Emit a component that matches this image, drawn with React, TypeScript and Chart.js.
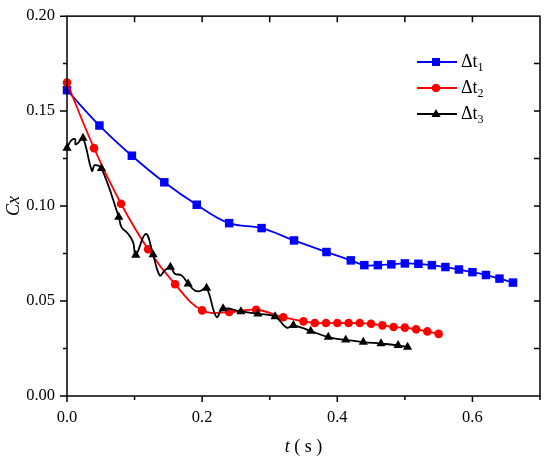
import { useEffect, useRef } from 'react'
import Chart from 'chart.js/auto'

// Δt1 series (blue squares)
const tBlue = [0, 0.048, 0.096, 0.144, 0.192, 0.24, 0.288, 0.336, 0.384, 0.42, 0.44, 0.46, 0.48, 0.5, 0.52, 0.54, 0.56, 0.58, 0.6, 0.62, 0.64, 0.66]
const cxBlue = [0.161, 0.1424, 0.1265, 0.1125, 0.1007, 0.091, 0.0884, 0.0819, 0.0758, 0.0714, 0.0689, 0.0689, 0.0693, 0.0698, 0.0696, 0.0689, 0.0679, 0.0666, 0.0652, 0.0637, 0.0618, 0.0597]

// Δt2 series (red circles)
const tRed = [0, 0.04, 0.08, 0.12, 0.16, 0.2, 0.24, 0.28, 0.32, 0.35, 0.3667, 0.3833, 0.4, 0.4167, 0.4333, 0.45, 0.4667, 0.4833, 0.5, 0.5167, 0.5333, 0.55]
const cxRed = [0.165, 0.1305, 0.1012, 0.0773, 0.0588, 0.0451, 0.0442, 0.0454, 0.0415, 0.0393, 0.0384, 0.0384, 0.0384, 0.0384, 0.0384, 0.038, 0.0372, 0.0363, 0.036, 0.0351, 0.034, 0.0327]

// Δt3 series (black triangles) - the curve wiggles between markers, so the
// unmarked points trace the drawn line
const tBlack = [0, 0.006, 0.012, 0.0125, 0.017, 0.0237, 0.037, 0.041, 0.051, 0.0766, 0.0806, 0.0904, 0.0978, 0.1018, 0.1166, 0.1274, 0.1373, 0.1447, 0.153, 0.1596, 0.1695, 0.1793, 0.189, 0.1966, 0.2065, 0.2213, 0.231, 0.2573, 0.2825, 0.308, 0.325, 0.335, 0.3606, 0.3867, 0.4125, 0.4385, 0.4647, 0.49, 0.504]
const cxBlack = [0.1305, 0.1345, 0.1352, 0.1325, 0.1335, 0.1358, 0.1185, 0.1215, 0.1198, 0.0942, 0.0889, 0.0854, 0.081, 0.0742, 0.0854, 0.0744, 0.0635, 0.0661, 0.0679, 0.0644, 0.0635, 0.0591, 0.0556, 0.0552, 0.0568, 0.0416, 0.046, 0.0445, 0.0432, 0.0418, 0.036, 0.0372, 0.0342, 0.031, 0.0295, 0.0284, 0.0276, 0.0267, 0.0258]
const blackMarker = [1, 0, 0, 0, 0, 1, 0, 0, 1, 1, 0, 0, 0, 1, 0, 1, 0, 0, 1, 0, 0, 1, 0, 0, 1, 0, 1, 1, 1, 1, 0, 1, 1, 1, 1, 1, 1, 1, 1]

const legendItems = [
  { label: 'Δt', sub: '1', color: '#0000ff', style: 'rect' },
  { label: 'Δt', sub: '2', color: '#ff0000', style: 'circle' },
  { label: 'Δt', sub: '3', color: '#000000', style: 'triangle' },
]

const FONT = '"Liberation Serif", "Times New Roman", serif'

function toPoints(xs: number[], ys: number[]) {
  return xs.map((x, i) => ({ x, y: ys[i] }))
}

function drawMarker(ctx: CanvasRenderingContext2D, style: string, x: number, y: number, color: string) {
  ctx.fillStyle = color
  ctx.beginPath()
  if (style === 'rect') {
    ctx.rect(x - 4, y - 4, 8, 8)
  } else if (style === 'circle') {
    ctx.arc(x, y, 4.3, 0, Math.PI * 2)
  } else {
    ctx.moveTo(x, y - 5)
    ctx.lineTo(x + 4.6, y + 3)
    ctx.lineTo(x - 4.6, y + 3)
    ctx.closePath()
  }
  ctx.fill()
}

const framePlugin = {
  id: 'frameAndLabels',
  afterDraw(chart: Chart) {
    const { ctx, chartArea } = chart
    const { left, right, top, bottom } = chartArea
    const xs = chart.scales.x
    const ys = chart.scales.y
    ctx.save()
    ctx.strokeStyle = '#000'
    ctx.lineWidth = 1.5
    ctx.strokeRect(left, top, right - left, bottom - top)

    ctx.beginPath()
    for (let i = 0; i <= 7; i++) {
      const px = xs.getPixelForValue(i * 0.1)
      const major = i % 2 === 0
      ctx.moveTo(px, bottom)
      ctx.lineTo(px, bottom + (major ? 6 : 4))
      if (i > 0 && i < 7) {
        ctx.moveTo(px, top)
        ctx.lineTo(px, top + 6)
      }
    }
    for (let i = 0; i <= 8; i++) {
      const py = ys.getPixelForValue(i * 0.025)
      const major = i % 2 === 0
      ctx.moveTo(left, py)
      ctx.lineTo(left - (major ? 7 : 4), py)
      if (i > 0 && i < 8) {
        ctx.moveTo(right, py)
        ctx.lineTo(right - 6, py)
      }
    }
    ctx.stroke()

    // axis titles
    ctx.fillStyle = '#000'
    ctx.textBaseline = 'middle'
    ctx.font = `italic 18px ${FONT}`
    const tW = ctx.measureText('t').width
    ctx.font = `18px ${FONT}`
    const restW = ctx.measureText(' ( s )').width
    const cx = (left + right) / 2 - (tW + restW) / 2
    ctx.font = `italic 18px ${FONT}`
    ctx.textAlign = 'left'
    ctx.fillText('t', cx, 447)
    ctx.font = `18px ${FONT}`
    ctx.fillText(' ( s )', cx + tW, 447)

    ctx.save()
    ctx.translate(14, (top + bottom) / 2)
    ctx.rotate(-Math.PI / 2)
    ctx.font = `italic 18px ${FONT}`
    ctx.textAlign = 'center'
    ctx.fillText('Cx', 0, 0)
    ctx.restore()

    // legend
    legendItems.forEach((item, i) => {
      const y = 62 + i * 26
      ctx.strokeStyle = item.color
      ctx.lineWidth = 1.8
      ctx.beginPath()
      ctx.moveTo(417, y)
      ctx.lineTo(457, y)
      ctx.stroke()
      drawMarker(ctx, item.style, 436, y, item.color)
      ctx.fillStyle = '#000'
      ctx.textAlign = 'left'
      ctx.font = `18px ${FONT}`
      ctx.fillText(item.label, 461, y)
      const w = ctx.measureText(item.label).width
      ctx.font = `12px ${FONT}`
      ctx.fillText(item.sub, 461 + w, y + 6)
    })
    ctx.restore()
  },
}

function App() {
  const canvasRef = useRef<HTMLCanvasElement | null>(null)

  useEffect(() => {
    if (!canvasRef.current) {
      return undefined
    }

    const chart = new Chart(canvasRef.current, {
      type: 'line',
      data: {
        datasets: [
          {
            label: 'Δt3',
            data: toPoints(tBlack, cxBlack),
            borderColor: '#000000',
            backgroundColor: '#000000',
            pointStyle: 'triangle',
            pointRadius: blackMarker.map((m) => (m ? 5.3 : 0)),
            pointHoverRadius: blackMarker.map((m) => (m ? 5.3 : 0)),
            pointBorderWidth: 0,
            borderWidth: 1.8,
            tension: 0.4,
            clip: false,
            order: 0,
          },
          {
            label: 'Δt2',
            data: toPoints(tRed, cxRed),
            borderColor: '#ff0000',
            backgroundColor: '#ff0000',
            pointStyle: 'circle',
            pointRadius: 4.3,
            pointBorderWidth: 0,
            borderWidth: 1.8,
            tension: 0.4,
            clip: false,
            order: 1,
          },
          {
            label: 'Δt1',
            data: toPoints(tBlue, cxBlue),
            borderColor: '#0000ff',
            backgroundColor: '#0000ff',
            pointStyle: 'rect',
            pointRadius: 6,
            pointBorderWidth: 0,
            borderWidth: 1.8,
            tension: 0.4,
            clip: false,
            order: 2,
          },
        ],
      },
      options: {
        animation: false,
        responsive: true,
        maintainAspectRatio: false,
        layout: { padding: { top: 15, right: 10, left: 0, bottom: 0 } },
        plugins: {
          legend: { display: false },
          tooltip: { enabled: false },
        },
        scales: {
          x: {
            type: 'linear',
            min: 0,
            max: 0.7,
            grid: { display: false, drawTicks: false },
            border: { display: false },
            ticks: {
              stepSize: 0.2,
              includeBounds: false,
              padding: 12,
              color: '#000',
              font: { family: FONT, size: 16.5 },
              callback: (v) => Number(v).toFixed(1),
            },
            afterFit: (scale) => {
              scale.height = 66
            },
          },
          y: {
            type: 'linear',
            min: 0,
            max: 0.2,
            grid: { display: false, drawTicks: false },
            border: { display: false },
            ticks: {
              stepSize: 0.05,
              padding: 12,
              color: '#000',
              font: { family: FONT, size: 16.5, lineHeight: 0.5 },
              callback: (v) => Number(v).toFixed(2),
            },
            afterFit: (scale) => {
              scale.width = 67
            },
          },
        },
      },
      plugins: [framePlugin],
    })

    return () => {
      chart.destroy()
    }
  }, [])

  return (
    <div style={{ position: 'fixed', left: 0, top: 0, width: 550, height: 462, background: '#fff' }}>
      <canvas ref={canvasRef} />
    </div>
  )
}

export default App
